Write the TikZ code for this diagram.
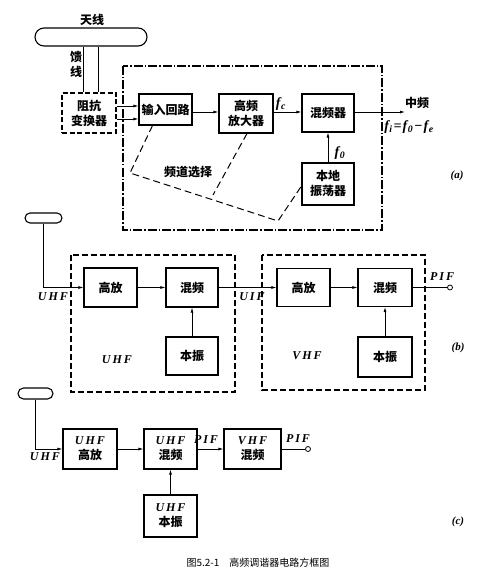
\documentclass[tikz,border=0pt]{standalone}
\usepackage{fontspec}
\setmainfont{Liberation Serif}
\newfontfamily\cjk{Noto Sans CJK SC}
\newcommand\lattxt[1]{{\normalfont\bfseries\itshape #1}}
\newcommand\fsub[1]{{\normalfont\bfseries\itshape f\kern0.5pt\textsubscript{#1}}}
\usetikzlibrary{arrows.meta}
\begin{document}
\begin{tikzpicture}[x=1pt,y=-1pt,
  blk/.style={draw,line width=1.1pt,inner sep=1pt,font=\cjk\bfseries\fontsize{12}{15}\selectfont,align=center},
  arr/.style={-{Latex[length=5pt,width=3pt]},line width=0.8pt},
  ln/.style={line width=0.8pt},
  ant/.style={draw,line width=1.1pt,rounded corners=5pt,inner sep=0pt},
  lbl/.style={font=\bfseries\itshape\fontsize{12}{14}\selectfont,inner sep=1pt},
  flbl/.style={font=\bfseries\itshape\fontsize{14}{16}\selectfont,inner sep=1pt},
  cj/.style={font=\cjk\bfseries\fontsize{12}{15}\selectfont,inner sep=1pt},
  dashbox/.style={line width=1.1pt,dash pattern=on 6pt off 3pt},
  dashdotbox/.style={line width=1.1pt,dash pattern=on 9pt off 2pt on 1.5pt off 2pt},
  dsel/.style={line width=1pt,dash pattern=on 7pt off 4pt},
  term/.style={circle,draw,line width=0.8pt,inner sep=0pt,minimum size=5pt,fill=white},
]
\useasboundingbox (0,0) rectangle (500,580);

% ---------------- (a) ----------------
\node[ant,minimum width=112pt,minimum height=18pt,rounded corners=9pt] (anta) at (91,37) {};
\node[cj] (tx) at (92,20) {天线};
\node[blk,minimum width=54pt,minimum height=40pt,dash pattern=on 5pt off 2.5pt] (zk) at (89,113) {阻抗\\变换器};
\draw[ln,line width=1pt] ([xshift=-8pt]anta.south) -- ([xshift=-6pt]zk.north);
\draw[ln,line width=1pt] ([xshift=7pt]anta.south) -- ([xshift=9pt]zk.north);
\node[cj,align=center] (kx) at (76,64) {馈\\线};

\draw[dashdotbox] (123,66) rectangle (382,230);

\node[blk,minimum width=53pt,minimum height=31pt] (sr) at (165.5,109.5) {输入回路};
\node[blk,minimum width=54pt,minimum height=39pt] (gp) at (246,113.5) {高频\\放大器};
\node[blk,minimum width=52pt,minimum height=38pt] (hp) at (328,113) {混频器};
\node[blk,minimum width=52pt,minimum height=42pt] (bd) at (328,184) {本地\\振荡器};

\draw[arr] ([yshift=7pt]zk.east) -- ([yshift=3.5pt]sr.west);
\draw[arr] ([yshift=-6pt]zk.east) -- ([yshift=-9.5pt]sr.west);
\draw[arr] ([yshift=-2.5pt]sr.east) -- ([yshift=1.5pt]gp.west);
\draw[arr] ([yshift=1.5pt]gp.east) -- ([yshift=1pt]hp.west);
\draw[arr] (bd.north) -- (hp.south);
\coordinate (oa) at (405,112);
\draw[arr] ([yshift=1pt]hp.east) -- (oa);

\node[flbl] (nfc) at (281,104) {\fsub{c}};
\node[flbl] (nf0) at (340,153) {\fsub{0}};
\node[cj] (zp) at (417,103) {中频};
\node[flbl] (nfi) at (409,127) {\fsub{i}\kern1pt=\kern1pt\fsub{0}\kern1pt−\kern1pt\fsub{e}};
\node[lbl,font=\bfseries\itshape\fontsize{11}{13}\selectfont] (la) at (457,176) {(a)};

\coordinate (s1) at (130,173);
\coordinate (s2) at (278,221);
\coordinate (s3) at (213,195);
\draw[dsel] ([xshift=-13pt]sr.south) -- (s1) -- (s2) -- ([yshift=-2pt]bd.west);
\draw[dsel] ([xshift=1pt]gp.south) -- (s3);
\node[cj] (pd) at (188,172) {频道选择};

% ---------------- (b) ----------------
\node[ant,minimum width=37pt,minimum height=10pt] (antb) at (43.5,218) {};
\draw[dashbox] (71,255) rectangle (235,392);
\draw[dashbox] (262,255) rectangle (425,390);

\node[blk,minimum width=53pt,minimum height=39pt] (ugf) at (110.5,287.5) {高放};
\node[blk,minimum width=52pt,minimum height=39pt] (uhp) at (192,287.5) {混频};
\node[blk,minimum width=52pt,minimum height=38pt] (ubz) at (192,356) {本振};
\node[blk,minimum width=53pt,minimum height=38pt] (vgf) at (303.5,287.5) {高放};
\node[blk,minimum width=54pt,minimum height=38pt] (vhp) at (385,287.5) {混频};
\node[blk,minimum width=54pt,minimum height=40pt] (vbz) at (385,357) {本振};
\node[term] (ob) at (450,287.5) {};

\draw[arr] (antb.south) |- (ugf.west);
\draw[arr] (ugf.east) -- (uhp.west);
\draw[arr] (ubz.north) -- (uhp.south);
\draw[arr] (uhp.east) -- (vgf.west);
\draw[arr] (vgf.east) -- (vhp.west);
\draw[arr] (vbz.north) -- (vhp.south);
\draw[ln] (vhp.east) -- (ob.west);

\node[lbl] (l1) at (53,297) {U\,H\,F};
\node[lbl] (l2) at (117,360) {U\,H\,F};
\node[lbl] (l3) at (252,297) {U\,I\,F};
\node[lbl] (l4) at (307,356) {V\,H\,F};
\node[lbl] (l5) at (442,277) {P\,I\,F};
\node[lbl,font=\bfseries\itshape\fontsize{11}{13}\selectfont] (lb) at (458,348) {(b)};

% ---------------- (c) ----------------
\node[ant,minimum width=35pt,minimum height=11pt,rounded corners=5.5pt] (antc) at (35.5,393.5) {};
\node[blk,minimum width=54pt,minimum height=40pt] (cgf) at (90,449) {\lattxt{U\,H\,F}\\高放};
\node[blk,minimum width=53pt,minimum height=40pt] (chp) at (170.5,449) {\lattxt{U\,H\,F}\\混频};
\node[blk,minimum width=53pt,minimum height=42pt] (cbz) at (170.5,516) {\lattxt{U\,H\,F}\\本振};
\node[blk,minimum width=57pt,minimum height=40pt] (cvh) at (252.5,449) {\lattxt{V\,H\,F}\\混频};
\node[term] (oc) at (308,449) {};

\draw[arr] (antc.south) |- (cgf.west);
\draw[arr] (cgf.east) -- (chp.west);
\draw[arr] (cbz.north) -- (chp.south);
\draw[arr] (chp.east) -- (cvh.west);
\draw[ln] (cvh.east) -- (oc.west);

\node[lbl] (l6) at (45,457) {U\,H\,F};
\node[lbl] (l7) at (206,440) {P\,I\,F};
\node[lbl] (l8) at (298,439) {P\,I\,F};
\node[lbl,font=\bfseries\itshape\fontsize{11}{13}\selectfont] (lc) at (458,522) {(c)};

\node[font=\cjk\fontsize{10}{12}\selectfont] (cap) at (258,563) {图5.2-1\quad 高频调谐器电路方框图};
\end{tikzpicture}
\end{document}
